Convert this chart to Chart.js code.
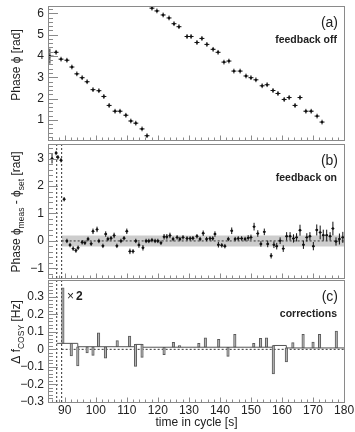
<!DOCTYPE html>
<html>
<head>
<meta charset="utf-8">
<script src="https://cdn.jsdelivr.net/npm/chart.js@4.4.1/dist/chart.umd.min.js"></script>
<style>
  body { margin: 0; background: #fff; width: 355px; height: 432px; position: relative; overflow: hidden; }
  canvas { position: absolute; left: 0; }
</style>
</head>
<body>
<canvas id="cA" width="355" height="144" style="top:0px"></canvas>
<canvas id="cB" width="355" height="142" style="top:140px"></canvas>
<canvas id="cC" width="355" height="154" style="top:278px"></canvas>
<script>
// shared time axis
const X_RANGE = [84.6, 180.3];
const X_TICKS = [90, 100, 110, 120, 130, 140, 150, 160, 170, 180];
const GATE_T = [87.4, 89.0];

// (a) feedback off
const A_T = [85.2, 87.2, 88.8, 90.7, 92.3, 93.9, 95.6, 97.2, 99.1, 101.0, 102.6, 104.3, 106.2, 107.8, 109.7, 111.3, 112.9, 114.9, 116.5,
             118.1, 119.7, 121.7, 123.6, 125.2, 126.8, 129.4, 130.7, 132.6, 134.2, 135.8, 137.8, 139.4, 141.3, 142.9, 144.5,
             146.5, 148.4, 150.0, 151.6, 153.6, 155.2, 157.1, 158.7, 160.7, 162.3, 164.2, 165.8, 167.7, 169.4, 171.3, 172.9];
const A_PHI = [3.99, 4.17, 3.85, 3.80, 3.48, 3.16, 2.98, 2.79, 2.42, 2.37, 2.10, 1.68, 1.41, 1.41, 1.22, 0.95, 0.85, 0.58, 0.26,
               6.24, 6.11, 5.92, 5.78, 5.51, 5.37, 4.91, 4.91, 4.63, 4.82, 4.54, 4.31, 4.17, 3.71, 3.76, 3.29,
               3.29, 3.06, 2.98, 2.88, 2.60, 2.65, 2.38, 2.24, 1.96, 2.05, 1.68, 2.05, 1.41, 1.41, 1.18, 0.90];
const A_ERR = [0.35];           // first point, the rest default
const A_Y_RANGE = [0.06, 6.34];
const A_Y_TICKS = [1, 2, 3, 4, 5, 6];

// (b) feedback on
const B_T = [85.9, 87.2, 87.8, 88.8, 89.8, 90.7, 91.7, 92.7, 93.6, 94.3, 95.6, 96.5, 97.5, 98.5, 99.1, 100.4, 101.0, 102.3, 103.2, 103.9,
             104.9, 105.9, 106.8, 108.1, 109.1, 110.0, 111.0, 112.0, 112.9, 113.9, 115.2, 116.2, 117.1, 118.1, 119.1, 120.0, 121.0, 122.0,
             122.9, 123.9, 124.9,
             126.2, 127.1, 128.1, 129.4, 130.4, 131.3, 132.6, 133.6, 134.6, 135.7, 136.8, 137.7, 138.4, 139.5, 140.6, 141.6, 142.7, 143.8,
             144.9, 145.9, 147.0, 148.1, 149.1, 150.0, 151.0, 152.2, 153.2, 154.3, 155.4, 156.5, 157.4, 158.3, 159.4, 160.4, 161.5, 162.6,
             163.7, 164.7, 165.8, 166.9, 168.0, 169.0, 170.1, 171.2, 172.3, 173.3, 174.4, 175.5, 176.4, 177.4, 178.5, 179.6];
const B_DPHI = [3.00, 3.20, 3.05, 2.94, 1.52, 0.00, -0.15, -0.28, -0.35, -0.25, -0.05, -0.07, 0.07, -0.10, 0.35, 0.42, 0.00, -0.18, 0.25, 0.07,
                0.10, 0.20, -0.18, 0.00, 0.10, 0.35, -0.38, -0.38, 0.00, -0.15, -0.25, 0.00, 0.00, 0.03, 0.00, 0.00, -0.07, 0.15,
                0.15, 0.20, 0.07,
                0.13, 0.07, 0.13, 0.09, 0.09, 0.10, 0.17, 0.07, 0.28, 0.07, 0.09, 0.09, 0.25, -0.14, -0.16, -0.19, 0.07, 0.37,
                0.07, 0.09, 0.09, 0.07, 0.11, 0.13, 0.52, 0.27, -0.11, 0.33, -0.11, -0.54, -0.14, -0.19, 0.01, -0.28, 0.17, 0.17,
                0.09, 0.13, 0.39, -0.14, 0.13, 0.17, -0.19, 0.40, 0.31, 0.21, 0.21, 0.17, 0.45, -0.02, 0.07, 0.13];
const B_ERR = [0.18, 0.08, 0.08, 0.08, 0.08, 0.08, 0.08, 0.08, 0.08, 0.08, 0.08, 0.08, 0.08, 0.08, 0.1, 0.1, 0.08, 0.08, 0.1, 0.08,
               0.08, 0.1, 0.08, 0.08, 0.08, 0.1, 0.1, 0.08, 0.08, 0.1, 0.1, 0.08, 0.08, 0.08, 0.08, 0.08, 0.08, 0.1,
               0.1, 0.1, 0.08,
               0.08, 0.08, 0.08, 0.08, 0.08, 0.08, 0.08, 0.08, 0.1, 0.08, 0.08, 0.08, 0.1, 0.1, 0.08, 0.08, 0.08, 0.12,
               0.08, 0.08, 0.08, 0.08, 0.1, 0.1, 0.14, 0.12, 0.1, 0.12, 0.12, 0.1, 0.12, 0.12, 0.12, 0.12, 0.15, 0.15,
               0.15, 0.15, 0.2, 0.15, 0.15, 0.15, 0.15, 0.2, 0.25, 0.2, 0.2, 0.15, 0.25, 0.15, 0.2, 0.2];
const B_BAND = [-0.2, 0.2];
const B_Y_RANGE = [-1.35, 3.53];
const B_Y_TICKS = [-1, 0, 1, 2, 3];

// (c) corrections
const C_T  = [89.4, 92.1, 94.2, 97.2, 99.1, 100.9, 103.1, 106.9, 110.9, 112.8, 114.9, 122.0, 125.0, 127.0, 133.2, 135.3, 139.6,
              142.6, 144.8, 150.9, 153.1, 155.0, 157.2, 161.4, 163.5, 166.8, 170.0, 172.1, 177.5];
const C_DF = [0.35, -0.038, -0.095, -0.02, -0.035, 0.094, -0.05, 0.05, 0.075, -0.097, -0.046, -0.03, 0.04, 0.022, 0.034, 0.066, 0.057,
              -0.04, 0.085, 0.034, 0.062, 0.066, -0.14, -0.072, 0.038, 0.085, 0.041, 0.085, 0.104];
const C_BASE_T = [87.4, 94.2, 112.8, 115.0, 157.2, 161.4, 180.3];
const C_BASE_V = [0.034, 0.015, 0.028, 0.012, 0.022, 0.008, 0.008];
const C_Y_RANGE = [-0.3, 0.395];
const C_Y_TICKS = [-0.3, -0.2, -0.1, 0, 0.1, 0.2, 0.3];

const FONT = '"Liberation Sans", Arial, Helvetica, sans-serif';
const INK = '#111';
const FRAME = '#8a8a8a';

function fmt(v, dec) {
  if (Math.abs(v) < 1e-9) return '0';
  const s = Math.abs(v).toFixed(dec);
  return v < 0 ? '\u2212' + s : s;
}

// error bars as broken line datasets (null breaks the line)
function errorData(ts, vs, ev, eh) {
  const vert = [], horz = [];
  ts.forEach((t, i) => {
    const e = ev[i] ?? 0.11, h = Array.isArray(eh) ? eh[i] : eh;
    vert.push({x: t, y: vs[i] - e}, {x: t, y: vs[i] + e}, {x: t, y: null});
    horz.push({x: t - h, y: vs[i]}, {x: t + h, y: vs[i]}, {x: t, y: null});
  });
  return [vert, horz];
}

function lineSet(data, extra) {
  return Object.assign({data, borderColor: INK, borderWidth: 1, pointRadius: 0, fill: false, tension: 0, spanGaps: false}, extra);
}

function gateData(yr) {
  const d = [];
  GATE_T.forEach(g => d.push({x: g, y: yr[0]}, {x: g, y: yr[1]}, {x: g, y: null}));
  return d;
}

function drawTitle(ctx, parts, cx, cy) {
  ctx.save();
  ctx.translate(cx, cy);
  ctx.rotate(-Math.PI / 2);
  let w = 0;
  parts.forEach(p => {
    ctx.font = (p.sub ? 8.5 : 12) + 'px ' + FONT;
    p.w = ctx.measureText(p.t).width;
    w += p.w;
  });
  let xx = -w / 2;
  ctx.textBaseline = 'middle';
  ctx.textAlign = 'left';
  ctx.fillStyle = '#222';
  parts.forEach(p => {
    ctx.font = (p.sub ? 8.5 : 12) + 'px ' + FONT;
    ctx.fillText(p.t, xx, p.sub ? 5 : 0);
    xx += p.w;
  });
  ctx.restore();
}

// frame, inward ticks, labels
const panelPlugin = {
  id: 'panel',
  afterDraw(chart, args, o) {
    const {ctx, chartArea: a, scales: {x, y}} = chart;
    ctx.save();
    ctx.strokeStyle = FRAME;
    ctx.lineWidth = 1;
    ctx.beginPath();
    for (let k = Math.ceil(x.min / 2); k * 2 <= x.max; k++) {
      const px = Math.round(x.getPixelForValue(k * 2)) + 0.5;
      const len = (k * 2) % 10 === 0 ? 4.5 : 2.5;
      ctx.moveTo(px, a.bottom);
      ctx.lineTo(px, a.bottom - len);
    }
    const n = Math.round(o.major / o.minor);
    for (let k = Math.ceil(y.min / o.minor - 1e-6); k * o.minor <= y.max + 1e-9; k++) {
      const py = Math.round(y.getPixelForValue(k * o.minor)) + 0.5;
      const len = ((k % n) + n) % n === 0 ? 10 : 5;
      ctx.moveTo(a.left, py);
      ctx.lineTo(a.left + len, py);
    }
    ctx.stroke();
    ctx.strokeRect(a.left + 0.5, a.top + 0.5, a.right - a.left - 1, a.bottom - a.top);

    ctx.fillStyle = '#222';
    ctx.textAlign = 'right';
    ctx.textBaseline = 'middle';
    ctx.font = '14px ' + FONT;
    ctx.fillText(o.tag, a.right - 7, a.top + 17);
    ctx.font = 'bold 10.5px ' + FONT;
    ctx.fillText(o.note, a.right - 8, a.top + 34);
    if (o.extra) o.extra(ctx, a, x, y);
    drawTitle(ctx, o.title, 17, a.top + o.titleY);
    ctx.restore();
  }
};

function yScale(range, ticks, dec) {
  return {
    type: 'linear', min: range[0], max: range[1],
    grid: {display: false, drawTicks: false}, border: {display: false},
    afterBuildTicks: s => { s.ticks = ticks.map(v => ({value: v})); },
    afterFit: s => { s.width = 48; s.paddingTop = 0; s.paddingBottom = 0; },
    ticks: {padding: 4, color: '#222', font: {family: FONT, size: 12}, callback: v => fmt(v, dec)}
  };
}

function xScale(show) {
  return {
    type: 'linear', min: X_RANGE[0], max: X_RANGE[1], offset: false, display: show,
    grid: {display: false, drawTicks: false}, border: {display: false},
    afterBuildTicks: s => { s.ticks = X_TICKS.map(v => ({value: v})); },
    afterFit: s => { if (show) s.height = 30; s.paddingLeft = 0; s.paddingRight = 0; },
    ticks: {padding: 1, maxRotation: 0, color: '#222', font: {family: FONT, size: 12}, callback: v => String(v)},
    title: {display: show, text: 'time in cycle [s]', color: '#222', font: {family: FONT, size: 12}, padding: {top: 0, bottom: 2}}
  };
}

function panel(id, datasets, yOpts, pad, panelOpts, showX) {
  return new Chart(document.getElementById(id), {
    type: 'line',
    data: {datasets},
    options: {
      responsive: false, animation: false, events: [],
      layout: {padding: {top: pad[0], bottom: pad[1], left: 0, right: 10}},
      plugins: {legend: {display: false}, tooltip: {enabled: false}, panel: panelOpts},
      scales: {x: xScale(showX), y: yOpts}
    },
    plugins: [panelPlugin]
  });
}

// panel (a)
const [aV, aH] = errorData(A_T, A_PHI, A_ERR, A_T.map((t, i) => i === 0 ? 1.2 : 0.8));
panel('cA', [
  lineSet(aV, {order: 1}),
  lineSet(aH, {order: 1}),
  lineSet(A_T.map((t, i) => ({x: t, y: A_PHI[i]})), {showLine: false, pointRadius: 1.2, pointBackgroundColor: INK, pointBorderWidth: 0, order: 0})
], yScale(A_Y_RANGE, A_Y_TICKS, 0), [6, 2], {
  tag: '(a)', note: 'feedback off', minor: 0.2, major: 1, titleY: 59,
  title: [{t: 'Phase \u03d5 [rad]'}]
}, false);

// panel (b)
const [bV, bH] = errorData(B_T, B_DPHI, B_ERR, 0.45);
const bandX = [GATE_T[1], X_RANGE[1]];
panel('cB', [
  lineSet(bV, {order: 1}),
  lineSet(bH, {order: 1}),
  lineSet(B_T.map((t, i) => ({x: t, y: B_DPHI[i]})), {showLine: false, pointRadius: 1.2, pointBackgroundColor: INK, pointBorderWidth: 0, order: 0}),
  lineSet(bandX.map(x => ({x, y: 0})), {borderColor: '#333', borderDash: [2, 2], order: 5}),
  lineSet(gateData(B_Y_RANGE), {borderColor: '#333', borderDash: [2, 2], order: 5}),
  lineSet(bandX.map(x => ({x, y: B_BAND[1]})), {borderWidth: 0, fill: '+1', backgroundColor: '#cdcdcd', order: 9}),
  lineSet(bandX.map(x => ({x, y: B_BAND[0]})), {borderWidth: 0, order: 10})
], yScale(B_Y_RANGE, B_Y_TICKS, 0), [2, 2], {
  tag: '(b)', note: 'feedback on', minor: 0.2, major: 1, titleY: 68,
  title: [{t: 'Phase \u03d5'}, {t: 'meas', sub: true}, {t: ' - \u03d5'}, {t: 'set', sub: true}, {t: ' [rad]'}]
}, false);

// panel (c)
function levelAt(t) {
  let v = C_BASE_V[0];
  C_BASE_T.forEach((bt, i) => { if (bt <= t) v = C_BASE_V[i]; });
  return v;
}
panel('cC', [
  {type: 'bar', data: C_T.map((t, i) => ({x: t, y: [levelAt(t), C_DF[i]]})), barThickness: 2.5,
   backgroundColor: '#b5b5b5', borderColor: '#5a5a5a', borderWidth: 1, borderSkipped: false, order: 1},
  lineSet(C_BASE_T.map((t, i) => ({x: t, y: C_BASE_V[i]})), {borderColor: '#555', stepped: true, order: 2}),
  lineSet([GATE_T[1], X_RANGE[1]].map(x => ({x, y: 0})), {borderColor: '#333', borderDash: [2, 2], order: 3}),
  lineSet(gateData(C_Y_RANGE), {borderColor: '#333', borderDash: [2, 2], order: 3})
], yScale(C_Y_RANGE, C_Y_TICKS, 1), [2, 0], {
  tag: '(c)', note: 'corrections', minor: 0.02, major: 0.1, titleY: 52,
  title: [{t: '\u0394 f'}, {t: 'COSY', sub: true}, {t: ' [Hz]'}],
  extra: (ctx, a) => {
    ctx.textAlign = 'left';
    ctx.font = '12px ' + FONT;
    ctx.fillText('\u00d7', 67, a.top + 17);
    ctx.font = 'bold 12px ' + FONT;
    ctx.fillText('2', 76, a.top + 17);
  }
}, true);
</script>
</body>
</html>
